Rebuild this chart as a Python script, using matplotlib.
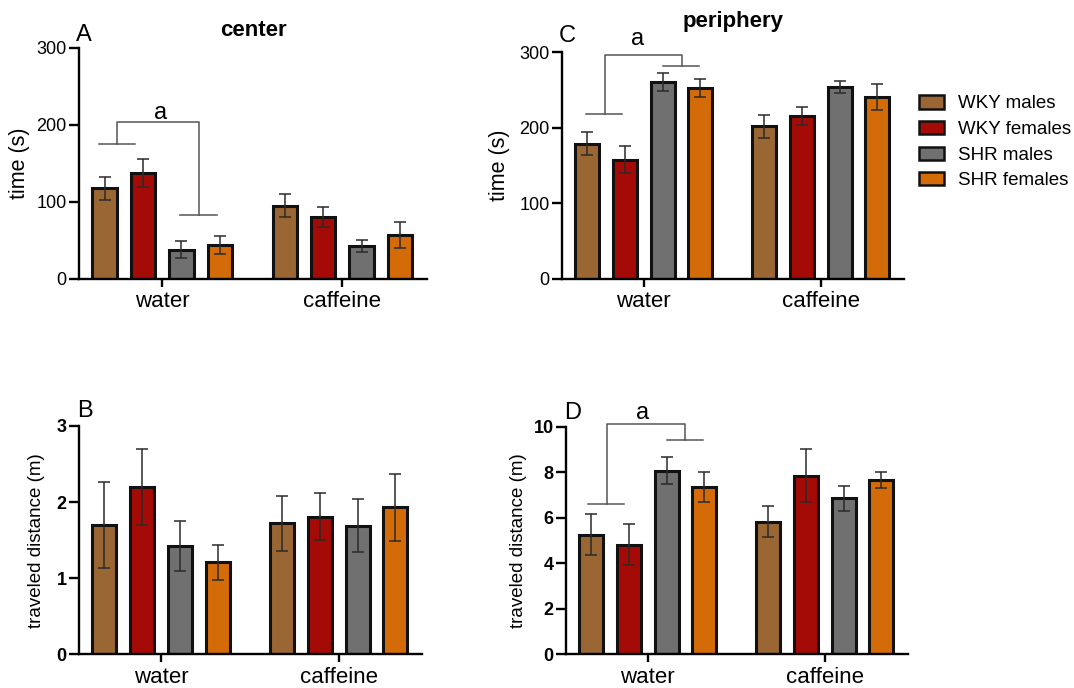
import matplotlib
matplotlib.use("Agg")
import matplotlib.pyplot as plt
from matplotlib.patches import Patch
import numpy as np

plt.rcParams['font.family'] = ['Liberation Sans', 'DejaVu Sans']

groups = ["WKY males", "WKY females", "SHR males", "SHR females"]
colors = ["#9A6633", "#A50B06", "#707070", "#D36C08"]
conditions = ["water", "caffeine"]

# values [condition][group]
center_mean = [[118, 138, 38, 44], [95, 81, 43, 57]]
center_sem = [[15, 18, 11, 12], [15, 13, 8, 17]]
periph_mean = [[179, 158, 261, 253], [202, 216, 254, 241]]
periph_sem = [[15, 18, 12, 12], [15, 12, 8, 17]]
dist_center_mean = [[1.70, 2.20, 1.42, 1.21], [1.72, 1.81, 1.69, 1.93]]
dist_center_sem = [[0.57, 0.50, 0.33, 0.23], [0.36, 0.31, 0.35, 0.44]]
dist_periph_mean = [[5.25, 4.82, 8.07, 7.36], [5.83, 7.85, 6.86, 7.66]]
dist_periph_sem = [[0.90, 0.90, 0.60, 0.65], [0.68, 1.15, 0.55, 0.36]]

W, H = 1074, 688
fig = plt.figure(figsize=(W / 100, H / 100), dpi=100)

def px_axes(l, t, r, b):
    return fig.add_axes([l / W, 1 - b / H, (r - l) / W, (b - t) / H])

axA = px_axes(79, 48, 427, 279)
axC = px_axes(562, 52.3, 904, 279)
axB = px_axes(79, 426, 422, 654.3)
axD = px_axes(566, 426.7, 908, 654.3)

offsets = [-0.32, -0.107, 0.107, 0.32]
bw = 0.135

def draw(ax, means, sems, ylim, yticks, ylabel, bold_ticks, ylab_x, ylab_size, letter, letter_xy):
    x = np.arange(len(conditions))
    for gi in range(4):
        m = [means[c][gi] for c in range(2)]
        s = [sems[c][gi] for c in range(2)]
        ax.bar(x + offsets[gi], m, width=bw, color=colors[gi], edgecolor='#111111',
               linewidth=2.2, zorder=2)
        ax.errorbar(x + offsets[gi], m, yerr=s, fmt='none', ecolor='#2a2a2a',
                    elinewidth=1.1, capsize=4.5, capthick=1.1, zorder=3)
    ax.set_xlim(-0.462, 1.47)
    ax.set_ylim(*ylim)
    ax.set_yticks(yticks)
    ax.set_xticks(x)
    ax.set_xticklabels(conditions, fontsize=16)
    for sp in ['top', 'right']:
        ax.spines[sp].set_visible(False)
    for sp in ['left', 'bottom']:
        ax.spines[sp].set_linewidth(1.7)
    ax.tick_params(axis='y', length=7, width=1.7, labelsize=13, pad=2)
    ax.tick_params(axis='x', length=6, width=1.7, pad=3)
    if bold_ticks:
        for t in ax.get_yticklabels():
            t.set_fontweight('bold')
    ax.set_ylabel(ylabel, fontsize=ylab_size)
    ax.yaxis.set_label_coords(ylab_x, 0.5)
    ax.text(letter_xy[0], letter_xy[1], letter, transform=ax.transAxes, fontsize=17,
            ha='left', va='center')

draw(axA, center_mean, center_sem, (0, 300), [0, 100, 200, 300], "time (s)", False, -0.141, 15.5, "A", (-0.01, 1.056))
draw(axC, periph_mean, periph_sem, (0, 300), [0, 100, 200, 300], "time (s)", False, -0.152, 15.5, "C", (-0.01, 1.07))
draw(axB, dist_center_mean, dist_center_sem, (0, 3), [0, 1, 2, 3], "traveled distance (m)", True, -0.099, 13.5, "B", (-0.005, 1.064))
draw(axD, dist_periph_mean, dist_periph_sem, (0, 10), [0, 2, 4, 6, 8, 10], "traveled distance (m)", True, -0.114, 13.5, "D", (-0.005, 1.062))

axA.text(0.5, 1.074, "center", transform=axA.transAxes, ha='center', va='center',
         fontsize=16, fontweight='bold')
axC.text(0.5, 1.138, "periphery", transform=axC.transAxes, ha='center', va='center',
         fontsize=16, fontweight='bold')

def bracket(ax, left_seg, right_seg, top_x, top_y, label_xy):
    kw = dict(color='#555555', lw=1.1, clip_on=False, zorder=4)
    ax.plot(left_seg[0], [left_seg[1]] * 2, **kw)
    ax.plot(right_seg[0], [right_seg[1]] * 2, **kw)
    ax.plot([top_x[0], top_x[0], top_x[1], top_x[1]],
            [left_seg[1], top_y, top_y, right_seg[1]], **kw)
    ax.text(label_xy[0], label_xy[1], "a", ha='center', va='center', fontsize=17,
            clip_on=False)

bracket(axA, ([-0.35, -0.15], 175), ([0.10, 0.306], 83.5), (-0.25, 0.206), 203.5, (-0.011, 216))
bracket(axC, ([-0.326, -0.124], 218), ([0.111, 0.31], 281.7), (-0.221, 0.214), 297, (-0.034, 318))
bracket(axD, ([-0.337, -0.136], 6.62), ([0.107, 0.311], 9.42), (-0.232, 0.209), 10.12, (-0.028, 10.62))

handles = [Patch(facecolor=c, edgecolor='#111111', linewidth=1.8) for c in colors]
fig.legend(handles, groups, loc='upper left', bbox_to_anchor=(910 / W, 1 - 86 / H),
           frameon=False, fontsize=13.5, handlelength=1.3, handleheight=0.7,
           handletextpad=0.75, labelspacing=0.45, borderpad=0)

fig.savefig("out.png", dpi=100)
